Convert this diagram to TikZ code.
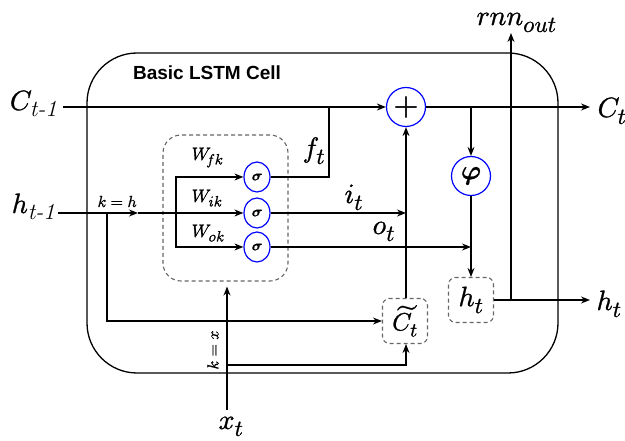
\documentclass[tikz,border=0pt]{standalone}
\usepackage{amsmath}
\usepackage{fontspec}
\usepackage{unicode-math}
\setmathfont{Latin Modern Math}[FakeBold=1]
\newfontfamily\hvfont{Liberation Sans}
\DeclareMathSizes{28}{28}{23}{18}
\DeclareMathSizes{25}{25}{20}{15}
\DeclareMathSizes{18}{18}{15}{12}
\DeclareMathSizes{16}{16}{12}{10}
\usetikzlibrary{arrows.meta,shapes.geometric}
\begin{document}
\begin{tikzpicture}[x=1pt,y=-1pt,line width=1.2pt,
  every node/.style={inner sep=0pt},
  ar/.style={-{Stealth[length=9pt,width=7pt]}},
  big/.style={font=\fontsize{28}{30}\selectfont},
  mid/.style={font=\fontsize{25}{27}\selectfont},
  wlab/.style={font=\fontsize{18}{20}\selectfont},
  small/.style={font=\fontsize{16}{18}\selectfont},
  gate/.style={draw=blue,line width=1.2pt,ellipse,minimum width=26pt,minimum height=30pt,inner sep=0pt,font=\fontsize{15}{16}\selectfont},
  op/.style={draw=blue,line width=1.2pt,circle,minimum size=39pt,inner sep=0pt},
  dbox/.style={draw=black!60,dash pattern=on 4pt off 3pt,rounded corners=7pt,minimum size=45pt,line width=1.1pt},
]
\useasboundingbox (0,0) rectangle (625,441);
% outer cell
\node[draw,line width=1.3pt,rounded corners=50pt,minimum width=471pt,minimum height=320pt] (cell) at (322.5,213) {};
\node[font=\hvfont\bfseries\fontsize{19}{21}\selectfont] (title) at (207,73) {Basic LSTM Cell};
% gate group
\node[dbox,rounded corners=18pt,minimum width=125pt,minimum height=146pt] (grp) at (225.5,208) {};
\node[gate] (sigf) at (257,177) {$\symbfit{\sigma}$};
\node[gate] (sigi) at (257,213) {$\symbfit{\sigma}$};
\node[gate] (sigo) at (257,247) {$\symbfit{\sigma}$};
% operators
\node[op,font=\fontsize{32}{32}\selectfont] (plus) at (406,107) {$\symbf{+}$};
\node[op,font=\fontsize{27}{27}\selectfont] (phi) at (471,176) {$\symbfit{\varphi}$};
\node[dbox,mid] (ct) at (405,321) {$\widetilde{C}_t$};
\node[dbox,big] (hbox) at (471,300) {$h_t$};
% outer labels
\node[big,anchor=base east] (lcprev) at (58,110) {$C_{\textit{t-1}}$};
\node[big,anchor=base east] (lhprev) at (56,213) {$h_{\textit{t-1}}$};
\node[big,anchor=base west] (lct) at (597,117) {$C_t$};
\node[big,anchor=base west] (lht) at (596,310) {$h_t$};
\node[big,anchor=base] (lxt) at (231,429) {$x_t$};
\node[big,anchor=base west] (lrnn) at (476,25) {$rnn_{out}$};
% inner labels
\node[big,anchor=base west] (lft) at (302,157) {$f_t$};
\node[big,anchor=base west] (lit) at (344,203) {$i_t$};
\node[big,anchor=base west] (lot) at (372,234) {$o_t$};
\node[small,anchor=base west] (lkh) at (97,207) {$k = h$};
\node[small,rotate=90] (lkx) at (213,350) {$k = x$};
\node[wlab,anchor=base west] (lwf) at (191,160) {$W_{\!fk}$};
\node[wlab,anchor=base west] (lwi) at (191,202) {$W_{ik}$};
\node[wlab,anchor=base west] (lwo) at (191,237) {$W_{ok}$};
% coordinates
\coordinate (cin) at (63,107);
\coordinate (cout) at (590,107);
\coordinate (phitop) at (471,107);
\coordinate (fj) at (329,107);
\coordinate (hout) at (590,300);
\coordinate (rj) at (511,300);
\coordinate (rtop) at (511,33);
\coordinate (hin) at (58,213);
\coordinate (kh) at (138,213);
\coordinate (b1) at (176,213);
\coordinate (b2) at (107,213);
\coordinate (xin) at (227,410);
\coordinate (b3) at (227,365);
% connectors
\draw[ar] (cin) -- (plus.west);
\draw (sigf.east) -| (fj);
\draw[ar] (plus.east) -- (cout);
\draw[ar] (phitop) -- (phi.north);
\draw[ar] (phi.south) -- (hbox.north);
\draw[ar] (ct.north -| plus) -- (plus.south);
\draw[ar] (sigi.east) -- (sigi -| plus);
\draw[ar] (sigo.east) -- (sigo -| phi);
\draw[ar] (hbox.east) -- (hout);
\draw[ar] (rj) -- (rtop);
\draw[ar] (hin) -- (kh);
\draw[ar] (kh) -- (sigi.west);
\draw[ar] (b1) |- (sigf.west);
\draw[ar] (b1) |- (sigo.west);
\draw[ar] (b2) |- (ct.west);
\draw[ar,shorten >=5pt] (xin) -- (xin |- grp.south);
\draw[ar] (b3) -| (ct.south -| plus);
\end{tikzpicture}
\end{document}
